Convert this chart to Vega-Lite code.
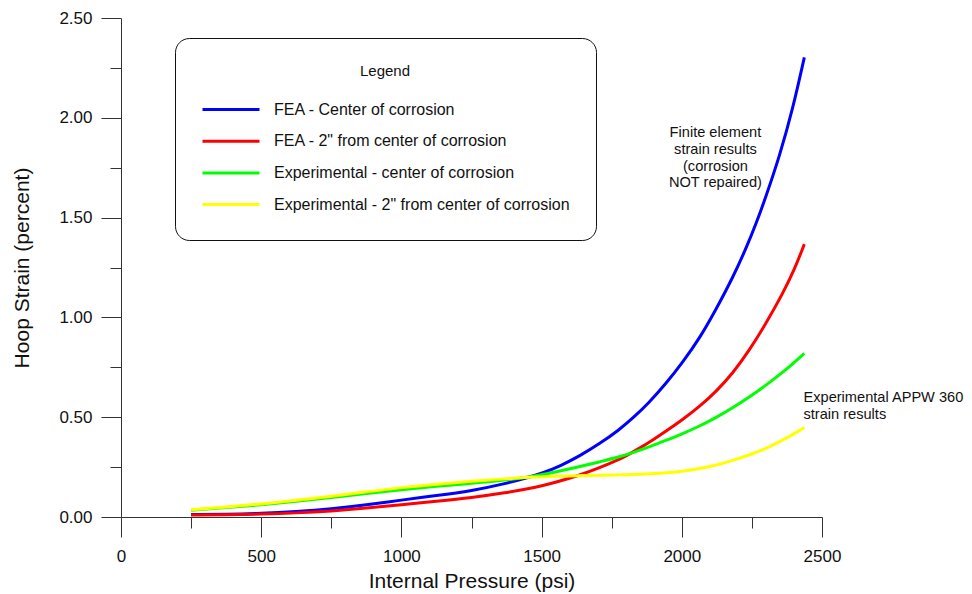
{
  "$schema": "https://vega.github.io/schema/vega-lite/v6.json",
  "width": 701,
  "height": 499,
  "autosize": {"type": "none"},
  "padding": {"left": 121, "top": 18, "right": 150, "bottom": 77},
  "background": "white",
  "config": {"view": {"stroke": null}, "font": "Liberation Sans"},
  "layer": [
    {
      "data": {
        "values": [
          {"s": "FEA - Center of corrosion", "p": 250, "e": 0.012},
          {"s": "FEA - Center of corrosion", "p": 375, "e": 0.014},
          {"s": "FEA - Center of corrosion", "p": 500, "e": 0.018},
          {"s": "FEA - Center of corrosion", "p": 625, "e": 0.027},
          {"s": "FEA - Center of corrosion", "p": 750, "e": 0.040},
          {"s": "FEA - Center of corrosion", "p": 875, "e": 0.060},
          {"s": "FEA - Center of corrosion", "p": 1000, "e": 0.085},
          {"s": "FEA - Center of corrosion", "p": 1125, "e": 0.107},
          {"s": "FEA - Center of corrosion", "p": 1250, "e": 0.131},
          {"s": "FEA - Center of corrosion", "p": 1375, "e": 0.168},
          {"s": "FEA - Center of corrosion", "p": 1457, "e": 0.200},
          {"s": "FEA - Center of corrosion", "p": 1500, "e": 0.218},
          {"s": "FEA - Center of corrosion", "p": 1570, "e": 0.258},
          {"s": "FEA - Center of corrosion", "p": 1635, "e": 0.305},
          {"s": "FEA - Center of corrosion", "p": 1706, "e": 0.366},
          {"s": "FEA - Center of corrosion", "p": 1777, "e": 0.437},
          {"s": "FEA - Center of corrosion", "p": 1825, "e": 0.495},
          {"s": "FEA - Center of corrosion", "p": 1880, "e": 0.568},
          {"s": "FEA - Center of corrosion", "p": 1944, "e": 0.669},
          {"s": "FEA - Center of corrosion", "p": 2003, "e": 0.775},
          {"s": "FEA - Center of corrosion", "p": 2063, "e": 0.894},
          {"s": "FEA - Center of corrosion", "p": 2122, "e": 1.040},
          {"s": "FEA - Center of corrosion", "p": 2182, "e": 1.200},
          {"s": "FEA - Center of corrosion", "p": 2229, "e": 1.345},
          {"s": "FEA - Center of corrosion", "p": 2265, "e": 1.470},
          {"s": "FEA - Center of corrosion", "p": 2300, "e": 1.605},
          {"s": "FEA - Center of corrosion", "p": 2348, "e": 1.805},
          {"s": "FEA - Center of corrosion", "p": 2396, "e": 2.045},
          {"s": "FEA - Center of corrosion", "p": 2437, "e": 2.303},

          {"s": "FEA - 2\" from center of corrosion", "p": 250, "e": 0.010},
          {"s": "FEA - 2\" from center of corrosion", "p": 375, "e": 0.011},
          {"s": "FEA - 2\" from center of corrosion", "p": 500, "e": 0.014},
          {"s": "FEA - 2\" from center of corrosion", "p": 625, "e": 0.020},
          {"s": "FEA - 2\" from center of corrosion", "p": 750, "e": 0.030},
          {"s": "FEA - 2\" from center of corrosion", "p": 875, "e": 0.044},
          {"s": "FEA - 2\" from center of corrosion", "p": 1000, "e": 0.062},
          {"s": "FEA - 2\" from center of corrosion", "p": 1125, "e": 0.079},
          {"s": "FEA - 2\" from center of corrosion", "p": 1250, "e": 0.097},
          {"s": "FEA - 2\" from center of corrosion", "p": 1375, "e": 0.122},
          {"s": "FEA - 2\" from center of corrosion", "p": 1457, "e": 0.143},
          {"s": "FEA - 2\" from center of corrosion", "p": 1500, "e": 0.156},
          {"s": "FEA - 2\" from center of corrosion", "p": 1550, "e": 0.174},
          {"s": "FEA - 2\" from center of corrosion", "p": 1635, "e": 0.209},
          {"s": "FEA - 2\" from center of corrosion", "p": 1706, "e": 0.246},
          {"s": "FEA - 2\" from center of corrosion", "p": 1766, "e": 0.282},
          {"s": "FEA - 2\" from center of corrosion", "p": 1800, "e": 0.305},
          {"s": "FEA - 2\" from center of corrosion", "p": 1850, "e": 0.345},
          {"s": "FEA - 2\" from center of corrosion", "p": 1896, "e": 0.385},
          {"s": "FEA - 2\" from center of corrosion", "p": 1944, "e": 0.430},
          {"s": "FEA - 2\" from center of corrosion", "p": 2000, "e": 0.485},
          {"s": "FEA - 2\" from center of corrosion", "p": 2063, "e": 0.553},
          {"s": "FEA - 2\" from center of corrosion", "p": 2122, "e": 0.628},
          {"s": "FEA - 2\" from center of corrosion", "p": 2182, "e": 0.720},
          {"s": "FEA - 2\" from center of corrosion", "p": 2241, "e": 0.835},
          {"s": "FEA - 2\" from center of corrosion", "p": 2300, "e": 0.969},
          {"s": "FEA - 2\" from center of corrosion", "p": 2360, "e": 1.120},
          {"s": "FEA - 2\" from center of corrosion", "p": 2401, "e": 1.237},
          {"s": "FEA - 2\" from center of corrosion", "p": 2437, "e": 1.367},

          {"s": "Experimental - center of corrosion", "p": 250, "e": 0.034},
          {"s": "Experimental - center of corrosion", "p": 375, "e": 0.047},
          {"s": "Experimental - center of corrosion", "p": 500, "e": 0.061},
          {"s": "Experimental - center of corrosion", "p": 625, "e": 0.079},
          {"s": "Experimental - center of corrosion", "p": 750, "e": 0.098},
          {"s": "Experimental - center of corrosion", "p": 875, "e": 0.118},
          {"s": "Experimental - center of corrosion", "p": 1000, "e": 0.137},
          {"s": "Experimental - center of corrosion", "p": 1125, "e": 0.154},
          {"s": "Experimental - center of corrosion", "p": 1250, "e": 0.169},
          {"s": "Experimental - center of corrosion", "p": 1375, "e": 0.185},
          {"s": "Experimental - center of corrosion", "p": 1457, "e": 0.200},
          {"s": "Experimental - center of corrosion", "p": 1550, "e": 0.225},
          {"s": "Experimental - center of corrosion", "p": 1635, "e": 0.252},
          {"s": "Experimental - center of corrosion", "p": 1706, "e": 0.276},
          {"s": "Experimental - center of corrosion", "p": 1777, "e": 0.301},
          {"s": "Experimental - center of corrosion", "p": 1825, "e": 0.322},
          {"s": "Experimental - center of corrosion", "p": 1890, "e": 0.354},
          {"s": "Experimental - center of corrosion", "p": 1944, "e": 0.384},
          {"s": "Experimental - center of corrosion", "p": 2000, "e": 0.415},
          {"s": "Experimental - center of corrosion", "p": 2063, "e": 0.455},
          {"s": "Experimental - center of corrosion", "p": 2125, "e": 0.500},
          {"s": "Experimental - center of corrosion", "p": 2182, "e": 0.547},
          {"s": "Experimental - center of corrosion", "p": 2250, "e": 0.610},
          {"s": "Experimental - center of corrosion", "p": 2300, "e": 0.660},
          {"s": "Experimental - center of corrosion", "p": 2372, "e": 0.737},
          {"s": "Experimental - center of corrosion", "p": 2437, "e": 0.820},

          {"s": "Experimental - 2\" from center of corrosion", "p": 250, "e": 0.036},
          {"s": "Experimental - 2\" from center of corrosion", "p": 375, "e": 0.050},
          {"s": "Experimental - 2\" from center of corrosion", "p": 500, "e": 0.065},
          {"s": "Experimental - 2\" from center of corrosion", "p": 625, "e": 0.084},
          {"s": "Experimental - 2\" from center of corrosion", "p": 750, "e": 0.104},
          {"s": "Experimental - 2\" from center of corrosion", "p": 875, "e": 0.126},
          {"s": "Experimental - 2\" from center of corrosion", "p": 1000, "e": 0.148},
          {"s": "Experimental - 2\" from center of corrosion", "p": 1125, "e": 0.165},
          {"s": "Experimental - 2\" from center of corrosion", "p": 1250, "e": 0.179},
          {"s": "Experimental - 2\" from center of corrosion", "p": 1375, "e": 0.192},
          {"s": "Experimental - 2\" from center of corrosion", "p": 1457, "e": 0.199},
          {"s": "Experimental - 2\" from center of corrosion", "p": 1550, "e": 0.204},
          {"s": "Experimental - 2\" from center of corrosion", "p": 1635, "e": 0.207},
          {"s": "Experimental - 2\" from center of corrosion", "p": 1706, "e": 0.209},
          {"s": "Experimental - 2\" from center of corrosion", "p": 1825, "e": 0.212},
          {"s": "Experimental - 2\" from center of corrosion", "p": 1944, "e": 0.220},
          {"s": "Experimental - 2\" from center of corrosion", "p": 2000, "e": 0.228},
          {"s": "Experimental - 2\" from center of corrosion", "p": 2063, "e": 0.242},
          {"s": "Experimental - 2\" from center of corrosion", "p": 2125, "e": 0.260},
          {"s": "Experimental - 2\" from center of corrosion", "p": 2182, "e": 0.284},
          {"s": "Experimental - 2\" from center of corrosion", "p": 2250, "e": 0.315},
          {"s": "Experimental - 2\" from center of corrosion", "p": 2300, "e": 0.343},
          {"s": "Experimental - 2\" from center of corrosion", "p": 2372, "e": 0.393},
          {"s": "Experimental - 2\" from center of corrosion", "p": 2437, "e": 0.448}
        ]
      },
      "mark": {"type": "line", "strokeWidth": 3, "interpolate": "basis"},
      "encoding": {
        "x": {
          "field": "p",
          "type": "quantitative",
          "scale": {"domain": [0, 2500], "nice": false, "zero": false},
          "axis": {
            "values": [0, 250, 500, 750, 1000, 1250, 1500, 1750, 2000, 2250, 2500],
            "format": "d",
            "labelExpr": "datum.value % 500 === 0 ? datum.label : ''",
            "tickSize": {"condition": {"test": "datum.value % 500 === 0", "value": 20}, "value": 11},
            "labelPadding": 11,
            "labelFlush": false,
            "labelOverlap": false,
            "labelFontSize": 17,
            "labelColor": "#111111",
            "labelFont": "Liberation Sans",
            "domainColor": "#333333",
            "tickColor": "#333333",
            "grid": false,
            "title": "Internal Pressure (psi)",
            "titleFont": "Liberation Sans",
            "titleFontSize": 21,
            "titleFontWeight": "normal",
            "titleColor": "#111111",
            "titleX": 350.5,
            "titleY": 70,
            "titleBaseline": "alphabetic"
          }
        },
        "y": {
          "field": "e",
          "type": "quantitative",
          "scale": {"domain": [0, 2.5], "nice": false},
          "axis": {
            "values": [0, 0.25, 0.5, 0.75, 1, 1.25, 1.5, 1.75, 2, 2.25, 2.5],
            "format": ".2f",
            "labelExpr": "abs(datum.value * 2 - round(datum.value * 2)) < 0.000001 ? datum.label : ''",
            "tickSize": {"condition": {"test": "abs(datum.value * 2 - round(datum.value * 2)) < 0.000001", "value": 20}, "value": 11},
            "labelPadding": 9,
            "labelOverlap": false,
            "labelFlush": false,
            "labelFontSize": 17,
            "labelColor": "#111111",
            "labelFont": "Liberation Sans",
            "domainColor": "#333333",
            "tickColor": "#333333",
            "grid": false,
            "title": "Hoop Strain (percent)",
            "titleFont": "Liberation Sans",
            "titleFontSize": 21,
            "titleFontWeight": "normal",
            "titleColor": "#111111",
            "titleX": -93,
            "titleY": 249.5,
            "titleBaseline": "alphabetic",
            "titleAngle": -90
          }
        },
        "color": {
          "field": "s",
          "type": "nominal",
          "scale": {
            "domain": ["FEA - Center of corrosion", "FEA - 2\" from center of corrosion", "Experimental - center of corrosion", "Experimental - 2\" from center of corrosion"],
            "range": ["#0000ff", "#ff0000", "#00ff00", "#ffff00"]
          },
          "legend": {
            "orient": "none",
            "legendX": 54,
            "legendY": 20,
            "title": "Legend",
            "titleAnchor": "middle",
            "titleFont": "Liberation Sans",
            "titleFontSize": 15,
            "titleFontWeight": "normal",
            "titleColor": "#111111",
            "titlePadding": 22,
            "labelFont": "Liberation Sans",
            "labelFontSize": 16,
            "labelColor": "#111111",
            "labelLimit": 500,
            "labelOffset": 13,
            "symbolType": "stroke",
            "symbolSize": 3249,
            "symbolStrokeWidth": 3,
            "clipHeight": 17,
            "rowPadding": 14.7,
            "strokeColor": "#111111",
            "cornerRadius": 14,
            "padding": 26,
            "fillColor": "white"
          }
        }
      }
    },
    {
      "data": {"values": [{}]},
      "mark": {
        "type": "text",
        "text": ["Finite element", "strain results", "(corrosion", "NOT repaired)"],
        "align": "center",
        "baseline": "middle",
        "font": "Liberation Sans",
        "fontSize": 14.6,
        "lineHeight": 16.7,
        "color": "#111111"
      },
      "encoding": {
        "x": {"datum": 2120, "type": "quantitative"},
        "y": {"datum": 1.923, "type": "quantitative"}
      }
    },
    {
      "data": {"values": [{}]},
      "mark": {
        "type": "text",
        "text": ["Experimental APPW 360", "strain results"],
        "align": "left",
        "baseline": "middle",
        "font": "Liberation Sans",
        "fontSize": 14.6,
        "lineHeight": 17,
        "color": "#111111"
      },
      "encoding": {
        "x": {"datum": 2434, "type": "quantitative"},
        "y": {"datum": 0.597, "type": "quantitative"}
      }
    }
  ]
}
